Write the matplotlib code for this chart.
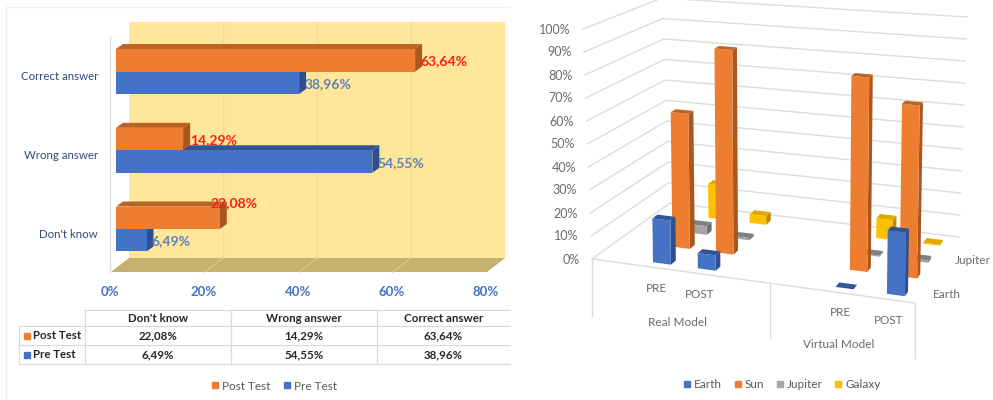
import numpy as np
import matplotlib
matplotlib.use('Agg')
import matplotlib.pyplot as plt
from matplotlib.lines import Line2D
from matplotlib.patches import Polygon

plt.rcParams['font.family'] = ['Lato', 'DejaVu Sans']

# left chart data
answers = ["Don't know", "Wrong answer", "Correct answer"]
post_test = [22.08, 14.29, 63.64]
pre_test = [6.49, 54.55, 38.96]
pct_ticks = [0, 20, 40, 60, 80]

# right chart data
groups = ["Real Model", "Virtual Model"]
sessions = ["PRE", "POST", "PRE", "POST"]
earth = [19, 6.5, 0, 26]
sun = [60, 90, 83, 73]
jupiter = [4, 1, 0.5, 1]
galaxy = [16, 4, 9, 0.5]
value_ticks = [0, 10, 20, 30, 40, 50, 60, 70, 80, 90, 100]

ORANGE = ('#ED7D31', '#A9571F', '#BC6224')
BLUE = ('#4472C4', '#2B4F8F', '#2F5597')
GREY = ('#A5A5A5', '#6E6E6E', '#7F7F7F')
GOLD = ('#FFC000', '#B98B00', '#E0A800')


def comma(v):
    return f"{v:.2f}".replace('.', ',') + '%'


fig = plt.figure(figsize=(9.93, 4), dpi=100, facecolor='white')

# full size layer in pixels, for the table, the frame and the 3D chart
ov = fig.add_axes([0, 0, 1, 1])
ov.set_xlim(0, 993)
ov.set_ylim(400, 0)
ov.axis('off')

ov.plot([6, 6, 510], [400, 7, 7], color='#efefef', lw=1)

# --- left chart: bars on a real percent axis, depth added by hand ---
ax = fig.add_axes([116 / 993, 1 - 272 / 400, 376 / 993, 250 / 400])
ax.set_xlim(0, 80)
ax.set_ylim((229 - 272) / 78.75, (229 - 22) / 78.75)
ax.axis('off')
ax.patch.set_alpha(0)

px = 80 / 376
py = 1 / 78.75
y0, y1 = ax.get_ylim()

# back wall and floor sit behind the bars
wall_dx = 13 * px
ax.add_patch(Polygon([(wall_dx, y0 + 14 * py), (80 + wall_dx, y0 + 14 * py),
                      (80 + wall_dx, y1), (wall_dx, y1)],
                     fc='#FFE699', ec='none', clip_on=False, zorder=0.2))
ax.add_patch(Polygon([(-5 * px, y0), (-5 * px + 80, y0),
                      (80 + wall_dx, y0 + 14 * py), (wall_dx, y0 + 14 * py)],
                     fc='#C4B06F', ec='none', clip_on=False, zorder=0.2))
for t in pct_ticks[1:-1]:
    ax.plot([t + wall_dx, t + wall_dx], [y0 + 14 * py, y1], color='#EBDDA0', lw=1, clip_on=False, zorder=0.5)
    ax.plot([t - 5 * px, t + wall_dx], [y0, y0 + 14 * py], color='#D6C88F', lw=1, clip_on=False, zorder=0.5)
ax.plot([-6 * px, -6 * px], [y0, y1 - 15 * py], color='#D9DDE6', lw=1, clip_on=False, zorder=0.5)


def bar_depth(val, low, high, colors):
    # side and top faces of a horizontal bar
    dx, dy = 7 * px, 5 * py
    ax.add_patch(Polygon([(val, low), (val + dx, low + dy), (val + dx, high + dy), (val, high)],
                         fc=colors[1], ec='none', clip_on=False))
    ax.add_patch(Polygon([(0, high), (dx, high + dy), (val + dx, high + dy), (val, high)],
                         fc=colors[2], ec='none', clip_on=False))


cats = np.arange(len(answers))
bar_h = 0.285
for c, v in zip(cats, pre_test):
    bar_depth(v, c - bar_h, c, BLUE)
ax.barh(cats - bar_h / 2, pre_test, height=bar_h, color=BLUE[0], edgecolor='none')
for c, v in zip(cats, post_test):
    bar_depth(v, c, c + bar_h, ORANGE)
ax.barh(cats + bar_h / 2, post_test, height=bar_h, color=ORANGE[0], edgecolor='none')

post_shift = [(-9, 26), (7, 10), (5, 10)]
for c, v, (sx, sy) in zip(cats, post_test, post_shift):
    ax.text(v + sx * px, c + sy * py, comma(v), color='#FF1A1A', fontsize=10, fontweight='bold',
            ha='left', va='center', clip_on=False)
for c, v in zip(cats, pre_test):
    ax.text(v + 5 * px, c - 12.5 * py, comma(v), color='#5B82BC', fontsize=10, fontweight='bold',
            ha='left', va='center', clip_on=False)

for c, name in zip(cats, answers):
    ax.text(-18 * px, c - 5 * py, name, color='#2F4A7A', fontsize=8.3, ha='right', va='center', clip_on=False)
for t in pct_ticks:
    ax.text(t - 6 * px, y0 - 20 * py, f"{t}%", color='#4472C4', fontsize=9.5, fontweight='bold',
            ha='center', va='center', clip_on=False)

# data table below the left chart
line_col = '#DADADA'
col_x = [85, 231, 377, 510]
for yy, start in [(310, 85), (326, 19), (345, 19), (364, 19)]:
    ov.plot([start, 510], [yy, yy], color=line_col, lw=0.9)
for xx in col_x[:-1]:
    ov.plot([xx, xx], [310, 364], color=line_col, lw=0.9)
ov.plot([19, 19], [326, 364], color=line_col, lw=0.9)

centers = [(col_x[i] + col_x[i + 1]) / 2 for i in range(3)]
for xx, name, a, b in zip(centers, answers, post_test, pre_test):
    ov.text(xx, 318, name, ha='center', va='center', fontsize=8.3, fontweight='bold', color='#262626')
    ov.text(xx, 335.5, comma(a), ha='center', va='center', fontsize=8.3, fontweight='bold', color='#262626')
    ov.text(xx, 354.5, comma(b), ha='center', va='center', fontsize=8.3, fontweight='bold', color='#262626')
for yy, name, colors in [(335.5, 'Post Test', ORANGE), (354.5, 'Pre Test', BLUE)]:
    ov.plot([26.5], [yy], marker='s', ms=4.5, color=colors[0], ls='none')
    ov.text(33, yy, name, ha='left', va='center', fontsize=8.3, fontweight='bold', color='#262626')


def square(color, label):
    return Line2D([], [], marker='s', ms=5, color=color, ls='none', label=label)


left_leg = ov.legend(handles=[square(ORANGE[0], 'Post Test'), square(BLUE[0], 'Pre Test')],
                     loc='center', bbox_to_anchor=(274, 386), bbox_transform=ov.transData,
                     ncol=2, frameon=False, fontsize=8.5, labelcolor='#595959', handlelength=0.6,
                     handletextpad=0.3, columnspacing=1.1, borderpad=0)
ov.add_artist(left_leg)

# --- right chart: perspective box, u along the front, v into the page, h up ---
FL = np.array([[592, 259], [583, 29]], float)
FR = np.array([[915, 303], [923, 56]], float)
BL = np.array([[670, 203], [662, -2]], float)
BR = np.array([[959, 237], [967, 17]], float)


def project(u, v, h, lean=1.0):
    base = (1 - u) * (1 - v) * FL[0] + u * (1 - v) * FR[0] + (1 - u) * v * BL[0] + u * v * BR[0]
    top = (1 - u) * (1 - v) * FL[1] + u * (1 - v) * FR[1] + (1 - u) * v * BL[1] + u * v * BR[1]
    rise = (top - base) * h / 100
    return base + np.array([rise[0] * lean, rise[1]])


grid_col = '#DCDCDC'
for val in value_ticks:
    pts = [project(0, 0, val), project(0, 1, val), project(1, 1, val)]
    ov.plot([p[0] for p in pts], [p[1] for p in pts], color=grid_col, lw=1, clip_on=True)
    lab = project(0, 0, val)
    ov.text(lab[0] - 12.5, lab[1] + 0.5, f"{val}%", ha='right', va='center', fontsize=9, color='#6B6B6B')

# floor front edge with the group dividers below it
divider = 0.55
ov.plot([FL[0][0], FR[0][0]], [FL[0][1], FR[0][1]], color=grid_col, lw=1)
for u, drop in [(0, 57), (divider, 55), (1, 55)]:
    p = project(u, 0, 0)
    ov.plot([p[0], p[0]], [p[1], p[1] + drop], color=grid_col, lw=1)

session_u = [0.20, 0.34, 0.77, 0.93]
series_v = {'Earth': 0.11, 'Sun': 0.38, 'Jupiter': 0.62, 'Galaxy': 0.88}
bar_du = 0.028
bar_dv = 0.035
bar_lean = 0.5


def bar3d(u, v, val, colors, z):
    a, b = u - bar_du, u + bar_du
    c, d = v - bar_dv, v + bar_dv
    front = [project(a, c, 0), project(b, c, 0), project(b, c, val, bar_lean), project(a, c, val, bar_lean)]
    side = [project(b, c, 0), project(b, d, 0), project(b, d, val, bar_lean), project(b, c, val, bar_lean)]
    top = [project(a, c, val, bar_lean), project(b, c, val, bar_lean),
           project(b, d, val, bar_lean), project(a, d, val, bar_lean)]
    ov.add_patch(Polygon(side, fc=colors[1], ec='none', zorder=z))
    ov.add_patch(Polygon(front, fc=colors[0], ec='none', zorder=z))
    ov.add_patch(Polygon(top, fc=colors[2], ec='none', zorder=z))


# back rows first so nearer bars cover them
rows = [('Galaxy', galaxy, GOLD), ('Jupiter', jupiter, GREY), ('Sun', sun, ORANGE), ('Earth', earth, BLUE)]
for i, (name, vals, colors) in enumerate(rows):
    for u, val in zip(session_u, vals):
        bar3d(u, series_v[name], val, colors, 3 + i)

for xx, yy, s in zip([656, 700, 840, 889], [288, 295, 313, 321], sessions):
    ov.text(xx, yy, s, ha='center', va='center', fontsize=8.5, color='#6B6B6B')
ov.text(677, 322, groups[0], ha='center', va='center', fontsize=8.5, color='#6B6B6B')
ov.text(839, 345, groups[1], ha='center', va='center', fontsize=8.5, color='#6B6B6B')
ov.text(973, 261, 'Jupiter', ha='center', va='center', fontsize=8.5, color='#6B6B6B')
ov.text(947, 295, 'Earth', ha='center', va='center', fontsize=8.5, color='#6B6B6B')

ov.legend(handles=[square(BLUE[0], 'Earth'), square(ORANGE[0], 'Sun'),
                   square(GREY[0], 'Jupiter'), square(GOLD[0], 'Galaxy')],
          loc='center', bbox_to_anchor=(782, 385), bbox_transform=ov.transData,
          ncol=4, frameon=False, fontsize=8.5, labelcolor='#595959', handlelength=0.6,
          handletextpad=0.3, columnspacing=1.0, borderpad=0)

fig.savefig('out.png', dpi=100)
